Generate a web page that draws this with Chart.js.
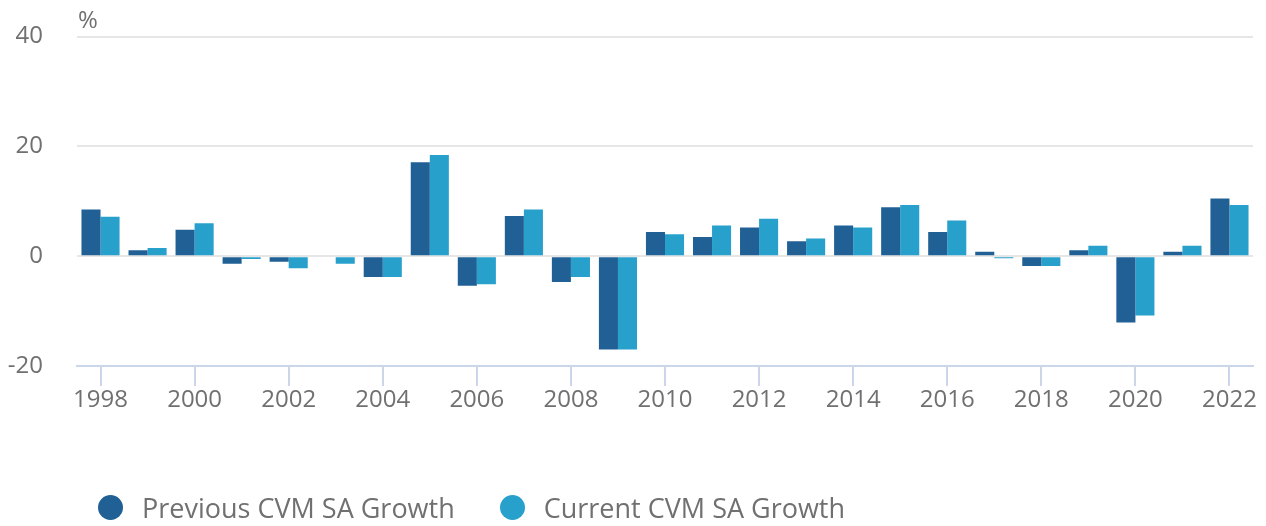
<!DOCTYPE html>
<html>
<head>
<meta charset="utf-8">
<script src="https://cdn.jsdelivr.net/npm/chart.js@4/dist/chart.umd.min.js"></script>
<style>
  html, body { margin: 0; padding: 0; background: #fff; }
  #wrap { position: relative; width: 1266px; height: 526px; }
  #legend { position: absolute; left: 98px; top: 490px; height: 34px; display: flex; align-items: center;
    font-family: "Open Sans", sans-serif; font-size: 27px; color: #707070; white-space: nowrap; }
  .item { display: flex; align-items: center; margin-right: 45px; }
  .dot { width: 25px; height: 25px; border-radius: 50%; margin-right: 19px; flex: none; }
</style>
</head>
<body>
<div id="wrap">
  <canvas id="c" width="1266" height="526"></canvas>
  <div id="legend"></div>
</div>
<script>
const years = ["1998","1999","2000","2001","2002","2003","2004","2005","2006","2007","2008","2009","2010","2011","2012","2013","2014","2015","2016","2017","2018","2019","2020","2021","2022"];
const previousGrowth = [8.5, 1.1, 4.8, -1.4, -1.0, 0, -3.8, 17.1, -5.4, 7.3, -4.7, -17.0, 4.4, 3.5, 5.2, 2.7, 5.6, 8.9, 4.4, 0.8, -1.8, 1.1, -12.1, 0.8, 10.5];
const currentGrowth = [7.2, 1.5, 6.0, -0.5, -2.2, -1.4, -3.8, 18.4, -5.1, 8.5, -3.8, -17.0, 4.0, 5.6, 6.8, 3.2, 5.2, 9.3, 6.5, -0.4, -1.8, 1.9, -10.8, 1.9, 9.3];
const seriesNames = ["Previous CVM SA Growth", "Current CVM SA Growth"];
const seriesColors = ["#206095", "#27a0cc"];
const yTicks = [-20, 0, 20, 40];
const unitLabel = "%";

const FONT = '"Open Sans", sans-serif';
const TEXT = '#707070';

const unitPlugin = {
  id: 'unitLabel',
  afterDraw(chart) {
    const ctx = chart.ctx;
    ctx.save();
    ctx.font = '24px ' + FONT;
    ctx.fillStyle = TEXT;
    ctx.textAlign = 'left';
    ctx.textBaseline = 'middle';
    ctx.fillText(unitLabel, chart.chartArea.left + 1, chart.chartArea.top - 15);
    ctx.restore();
  }
};

new Chart(document.getElementById('c'), {
  type: 'bar',
  data: {
    labels: years,
    datasets: [
      { label: seriesNames[0], data: previousGrowth, backgroundColor: seriesColors[0], categoryPercentage: 0.81, barPercentage: 1.0 },
      { label: seriesNames[1], data: currentGrowth, backgroundColor: seriesColors[1], categoryPercentage: 0.81, barPercentage: 1.0 }
    ]
  },
  options: {
    responsive: false,
    animation: false,
    layout: { padding: { top: 36.5, right: 13, left: 0, bottom: 100 } },
    plugins: {
      legend: { display: false },
      tooltip: { enabled: false }
    },
    scales: {
      x: {
        offset: true,
        afterFit(scale) { scale.height = 60; },
        grid: { offset: false, drawOnChartArea: false, drawTicks: true, tickLength: 20, color: '#ccd6eb', lineWidth: 2 },
        border: { display: true, color: '#ccd6eb', width: 2 },
        ticks: {
          autoSkip: false, maxRotation: 0, color: TEXT, font: { family: FONT, size: 24 }, padding: 0,
          callback: function(v, i) { return i % 2 === 0 ? this.getLabelForValue(v) : null; }
        }
      },
      y: {
        min: -20, max: 40,
        afterBuildTicks(scale) { scale.ticks = yTicks.map(v => ({ value: v })); },
        afterFit(scale) { scale.width = 77; scale.paddingTop = 0; scale.paddingBottom = 0; },
        grid: { drawTicks: false, lineWidth: 2, color: ctx => (ctx.tick && ctx.tick.value === -20) ? 'rgba(0,0,0,0)' : '#e6e6e6' },
        border: { display: false },
        ticks: { color: TEXT, font: { family: FONT, size: 24 }, padding: 34 }
      }
    }
  },
  plugins: [unitPlugin]
});

const lg = document.getElementById('legend');
seriesNames.forEach((n, i) => {
  const it = document.createElement('div'); it.className = 'item';
  const d = document.createElement('span'); d.className = 'dot'; d.style.background = seriesColors[i];
  const t = document.createElement('span'); t.textContent = n;
  it.appendChild(d); it.appendChild(t); lg.appendChild(it);
});
</script>
</body>
</html>
